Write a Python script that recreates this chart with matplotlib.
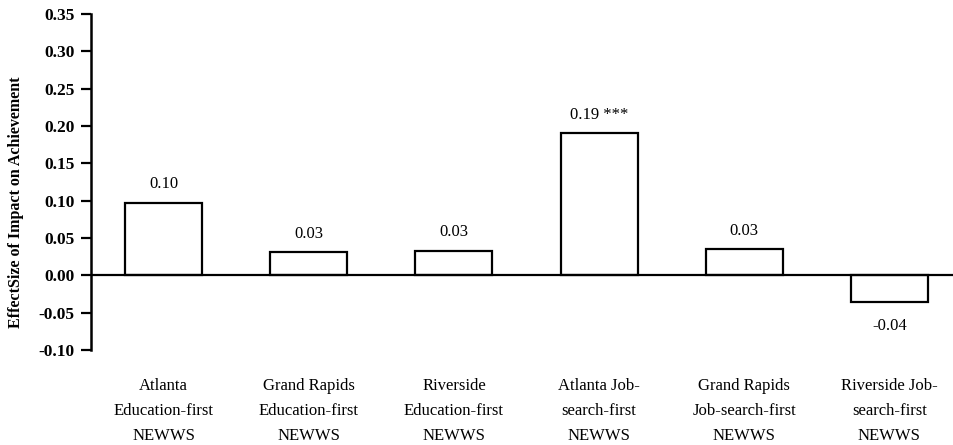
import matplotlib.pyplot as plt

# effect sizes by program
programs = ["Atlanta\nEducation-first\nNEWWS",
            "Grand Rapids\nEducation-first\nNEWWS",
            "Riverside\nEducation-first\nNEWWS",
            "Atlanta Job-\nsearch-first\nNEWWS",
            "Grand Rapids\nJob-search-first\nNEWWS",
            "Riverside Job-\nsearch-first\nNEWWS"]
effects = [0.097, 0.031, 0.033, 0.190, 0.035, -0.036]
labels = ["0.10", "0.03", "0.03", "0.19 ***", "0.03", "-0.04"]
yticks = [-0.10, -0.05, 0.00, 0.05, 0.10, 0.15, 0.20, 0.25, 0.30, 0.35]

plt.rcParams['font.family'] = ['Liberation Serif', 'DejaVu Serif']

fig = plt.figure(figsize=(9.54, 4.45), dpi=100)
ax = fig.add_axes([0.0954, 0.2135, 0.913, 0.755])

x = range(len(programs))
ax.bar(x, effects, width=0.53, color='white', edgecolor='black', linewidth=1.6, zorder=2)
ax.axhline(0, color='black', linewidth=1.6, zorder=3)

for i, (v, lab) in enumerate(zip(effects, labels)):
    if v >= 0:
        ax.text(i, v + 0.014, lab, ha='center', va='bottom', fontsize=12)
    else:
        ax.text(i, v - 0.021, lab, ha='center', va='top', fontsize=12)

ax.set_xlim(-0.5, 5.5)
ax.set_ylim(-0.10, 0.35)
ax.set_yticks(yticks)
ax.set_yticklabels([f"{t:.2f}" for t in yticks], fontweight='bold', fontsize=12.5)
ax.tick_params(axis='y', direction='out', length=7, width=1.6, pad=5)

ax.set_xticks(list(x))
ax.set_xticklabels(programs, fontsize=12, linespacing=1.75)
ax.tick_params(axis='x', length=0, pad=20)

for side in ['top', 'right', 'bottom']:
    ax.spines[side].set_visible(False)
ax.spines['left'].set_linewidth(1.8)

fig.text(0.017, 1 - 202 / 445, "EffectSize of Impact on Achievement", rotation=90,
         ha='center', va='center', fontsize=11.5, fontweight='bold')

fig.savefig("out.png", dpi=100)
